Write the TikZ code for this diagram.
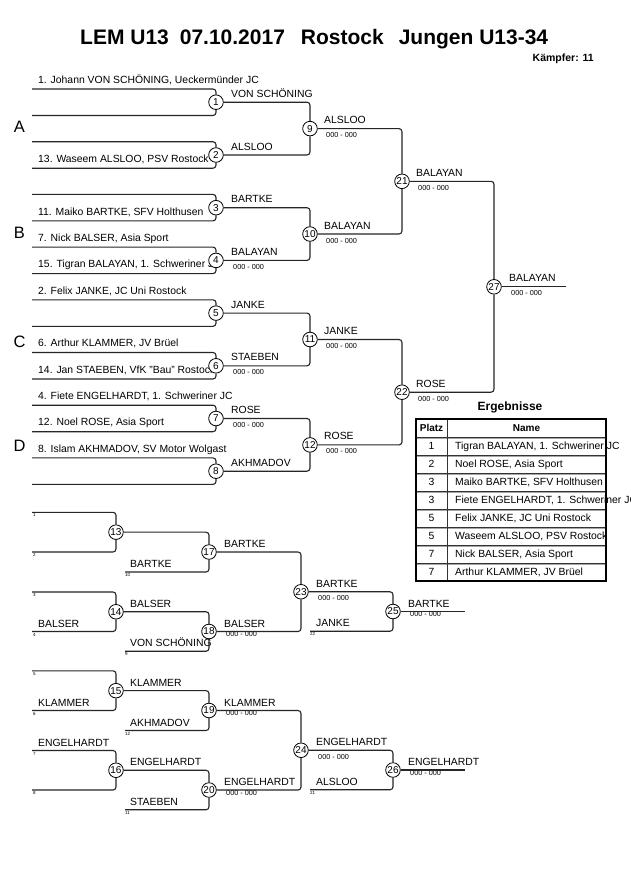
\documentclass[tikz,border=0pt]{standalone}
\usepackage{fontspec}
\setmainfont{Liberation Sans}
\newcommand{\fsz}[1]{\fontsize{#1}{#1}\selectfont}
\pgfdeclarelayer{bgl}
\pgfdeclarelayer{textl}
\pgfdeclarelayer{linel}
\pgfsetlayers{bgl,textl,linel,main}
\tikzset{
  mc/.style={circle,draw=black,line width=0.8pt,fill=white,minimum size=14.6pt,inner sep=0pt,font=\fsz{10}},
  nm/.style={anchor=base west,inner sep=0pt,font=\fsz{10.4}},
  sc/.style={anchor=base west,inner sep=0pt,font=\fsz{7.3}},
  tn/.style={anchor=base west,inner sep=0pt,font=\fsz{4.5}},
  grp/.style={anchor=center,inner sep=0pt,font=\fsz{16.5}},
  br/.style={draw=black!85,line width=1.1pt,rounded corners=3pt},
  tb/.style={anchor=base,inner sep=0pt,font=\fsz{10.4}},
  tbh/.style={anchor=base,inner sep=0pt,font=\bfseries\fsz{10}},
  tbn/.style={anchor=base west,inner sep=0pt,font=\fsz{10.4}},
  rowl/.style={draw=black!80,line width=0.6pt},
  rowg/.style={draw=black!35,line width=0.6pt},
}
\begin{document}
\begin{tikzpicture}[x=1pt,y=-1pt]
\begin{pgfonlayer}{bgl}
\fill[white] (0,0) rectangle (630,891);
\end{pgfonlayer}
\useasboundingbox (0,0) rectangle (630,891);

% ---------- circles (main bracket)
\node[mc] (c1) at (216,102.2) {1};
\node[mc] (c2) at (216,155) {2};
\node[mc] (c3) at (216,207.7) {3};
\node[mc] (c4) at (216,260.4) {4};
\node[mc] (c5) at (216,313.1) {5};
\node[mc] (c6) at (216,365.8) {6};
\node[mc] (c7) at (216,418.5) {7};
\node[mc] (c8) at (216,471.2) {8};
\node[mc] (c9) at (310,128.6) {9};
\node[mc] (c10) at (310,234) {10};
\node[mc] (c11) at (310,339.5) {11};
\node[mc] (c12) at (310,444.9) {12};
\node[mc] (c21) at (402,181.3) {21};
\node[mc] (c22) at (402,392.2) {22};
\node[mc] (c27) at (494,286.8) {27};
% ---------- circles (repechage)
\node[mc] (c13) at (116,532.15) {13};
\node[mc] (c14) at (116,611.75) {14};
\node[mc] (c17) at (209,552) {17};
\node[mc] (c18) at (209,631.5) {18};
\node[mc] (c23) at (301,591.75) {23};
\node[mc] (c25) at (393,611.5) {25};
\node[mc] (c15) at (116,690.65) {15};
\node[mc] (c16) at (116,770.25) {16};
\node[mc] (c19) at (209,710.5) {19};
\node[mc] (c20) at (209,790) {20};
\node[mc] (c24) at (301,750.25) {24};
\node[mc] (c26) at (393,770) {26};

% ---------- free ends
\coordinate (s1t) at (32,89);    \coordinate (s1b) at (32,115.5);
\coordinate (s2t) at (32,141.7); \coordinate (s2b) at (32,168.2);
\coordinate (s3t) at (32,194.4); \coordinate (s3b) at (32,220.9);
\coordinate (s4t) at (32,247.1); \coordinate (s4b) at (32,273.6);
\coordinate (s5t) at (32,299.8); \coordinate (s5b) at (32,326.3);
\coordinate (s6t) at (32,352.5); \coordinate (s6b) at (32,379);
\coordinate (s7t) at (32,405.2); \coordinate (s7b) at (32,431.7);
\coordinate (s8t) at (32,457.9); \coordinate (s8b) at (32,484.4);
\coordinate (f27) at (566,286.8);
\coordinate (r13t) at (32,512.3); \coordinate (r13b) at (32,552);
\coordinate (r14t) at (32,592);   \coordinate (r14b) at (32,631.5);
\coordinate (r17b) at (125,572);
\coordinate (r18b) at (125,651.25);
\coordinate (r25b) at (310,631.25);
\coordinate (f25) at (465,611.5);
\coordinate (r15t) at (32,670.8); \coordinate (r15b) at (32,710.5);
\coordinate (r16t) at (32,750.5); \coordinate (r16b) at (32,790);
\coordinate (r19b) at (125,730.5);
\coordinate (r20b) at (125,809.75);
\coordinate (r26b) at (310,789.75);
\coordinate (f26) at (465,770);

% ---------- connectors
\begin{pgfonlayer}{linel}
\foreach \k in {1,...,8} {
  \draw[br] (s\k t) -| (c\k);
  \draw[br] (s\k b) -| (c\k);
}
\draw[br] (c1) -| (c9);  \draw[br] (c2) -| (c9);
\draw[br] (c3) -| (c10); \draw[br] (c4) -| (c10);
\draw[br] (c5) -| (c11); \draw[br] (c6) -| (c11);
\draw[br] (c7) -| (c12); \draw[br] (c8) -| (c12);
\draw[br] (c9) -| (c21); \draw[br] (c10) -| (c21);
\draw[br] (c11) -| (c22); \draw[br] (c12) -| (c22);
\draw[br] (c21) -| (c27); \draw[br] (c22) -| (c27);
\draw[br] (c27) -- (f27);
% repechage 1
\draw[br] (r13t) -| (c13); \draw[br] (r13b) -| (c13);
\draw[br] (r14t) -| (c14); \draw[br] (r14b) -| (c14);
\draw[br] (c13) -| (c17); \draw[br] (r17b) -| (c17);
\draw[br] (c14) -| (c18); \draw[br] (r18b) -| (c18);
\draw[br] (c17) -| (c23); \draw[br] (c18) -| (c23);
\draw[br] (c23) -| (c25); \draw[br] (r25b) -| (c25);
\draw[br] (c25) -- (f25);
% repechage 2
\draw[br] (r15t) -| (c15); \draw[br] (r15b) -| (c15);
\draw[br] (r16t) -| (c16); \draw[br] (r16b) -| (c16);
\draw[br] (c15) -| (c19); \draw[br] (r19b) -| (c19);
\draw[br] (c16) -| (c20); \draw[br] (r20b) -| (c20);
\draw[br] (c19) -| (c24); \draw[br] (c20) -| (c24);
\draw[br] (c24) -| (c26); \draw[br] (r26b) -| (c26);
\draw[br] (c26) -- (f26);
% results table lines
\foreach \y in {437,455,473,491,509,527,545,563} {
  \draw[rowl] (416,\y) -- (606,\y);
  \draw[rowg] (416,\y+1) -- (606,\y+1);
}
\draw[rowl] (447,419) -- (447,581);
\draw[draw=black,line width=1.8pt] (416,419) rectangle (606,581);
\end{pgfonlayer}

% ---------- texts
\begin{pgfonlayer}{textl}
\node[anchor=base west,inner sep=0pt,font=\bfseries\fsz{21}] (title) at (80,44.3)
  {LEM U13\hspace{11pt}07.10.2017\hspace{16pt}Rostock\hspace{15pt}Jungen U13-34};
\node[anchor=base east,inner sep=0pt,font=\bfseries\fsz{10.5}] (kampf) at (594,62) {Kämpfer: 11};

\node[grp] (gA) at (19.5,127) {A};
\node[grp] (gB) at (19.5,233) {B};
\node[grp] (gC) at (19.5,342) {C};
\node[grp] (gD) at (19.5,446) {D};

\node[nm] (p1) at (38,83.3) {1. Johann VON SCHÖNING, Ueckermünder JC};
\node[nm] (p13) at (38,162) {13. Waseem ALSLOO, PSV Rostock};
\node[nm] (p11) at (38,215) {11. Maiko BARTKE, SFV Holthusen};
\node[nm] (p7) at (38,241) {7. Nick BALSER, Asia Sport};
\node[nm] (p15) at (38,267.6) {15. Tigran BALAYAN, 1. Schweriner JC};
\node[nm] (p2) at (38,294) {2. Felix JANKE, JC Uni Rostock};
\node[nm] (p6) at (38,346.5) {6. Arthur KLAMMER, JV Brüel};
\node[nm] (p14) at (38,373) {14. Jan STAEBEN, VfK "Bau" Rostock};
\node[nm] (p4) at (38,399.2) {4. Fiete ENGELHARDT, 1. Schweriner JC};
\node[nm] (p12) at (38,425.7) {12. Noel ROSE, Asia Sport};
\node[nm] (p8) at (38,452) {8. Islam AKHMADOV, SV Motor Wolgast};

\node[nm] (w1) at (231,97) {VON SCHÖNING};
\node[nm] (w2) at (231,150) {ALSLOO};
\node[nm] (w3) at (231,202.7) {BARTKE};
\node[nm] (w4) at (231,255.4) {BALAYAN};
\node[sc] (w4s) at (233,269.4) {000 - 000};
\node[nm] (w5) at (231,308) {JANKE};
\node[nm] (w6) at (231,360.8) {STAEBEN};
\node[sc] (w6s) at (233,374.8) {000 - 000};
\node[nm] (w7) at (231,413.5) {ROSE};
\node[sc] (w7s) at (233,427.5) {000 - 000};
\node[nm] (w8) at (231,466.2) {AKHMADOV};

\node[nm] (w9) at (324,123.6) {ALSLOO};
\node[sc] (w9s) at (326,137.6) {000 - 000};
\node[nm] (w10) at (324,229) {BALAYAN};
\node[sc] (w10s) at (326,243) {000 - 000};
\node[nm] (w11) at (324,334.5) {JANKE};
\node[sc] (w11s) at (326,348.5) {000 - 000};
\node[nm] (w12) at (324,439.9) {ROSE};
\node[sc] (w12s) at (326,453.9) {000 - 000};
\node[nm] (w21) at (416,176.3) {BALAYAN};
\node[sc] (w21s) at (418,190.3) {000 - 000};
\node[nm] (w22) at (416,387.2) {ROSE};
\node[sc] (w22s) at (418,401.2) {000 - 000};
\node[nm] (w27) at (509,281.8) {BALAYAN};
\node[sc] (w27s) at (511,295.8) {000 - 000};

% repechage 1 texts
\node[tn] (q1) at (33,516.8) {1};
\node[tn] (q2) at (33,556.5) {2};
\node[tn] (q3) at (33,596.5) {3};
\node[tn] (q4) at (33,636) {4};
\node[nm] (x14b) at (38,627) {BALSER};
\node[nm] (x17b) at (130,567.5) {BARTKE};
\node[tn] (q10) at (125,576.5) {10};
\node[nm] (x14) at (130,607.2) {BALSER};
\node[nm] (x18b) at (130,646.7) {VON SCHÖNING};
\node[tn] (q9) at (125,655.7) {9};
\node[nm] (x17) at (224,547) {BARTKE};
\node[nm] (x18) at (224,627) {BALSER};
\node[sc] (x18s) at (226,636.5) {000 - 000};
\node[nm] (x23) at (316,587.2) {BARTKE};
\node[sc] (x23s) at (318,600.7) {000 - 000};
\node[nm] (x25b) at (316,626.8) {JANKE};
\node[tn] (q22) at (310,635.8) {22};
\node[nm] (x25) at (408,607) {BARTKE};
\node[sc] (x25s) at (410,616.5) {000 - 000};

% repechage 2 texts
\node[tn] (q5) at (33,675.3) {5};
\node[tn] (q6) at (33,715) {6};
\node[tn] (q7) at (33,755) {7};
\node[tn] (q8) at (33,794.5) {8};
\node[nm] (x15b) at (38,706) {KLAMMER};
\node[nm] (x16t) at (38,746) {ENGELHARDT};
\node[nm] (x15) at (130,686.2) {KLAMMER};
\node[nm] (x19b) at (130,726) {AKHMADOV};
\node[tn] (q12) at (125,735) {12};
\node[nm] (x16) at (130,765.7) {ENGELHARDT};
\node[nm] (x20b) at (130,805.2) {STAEBEN};
\node[tn] (q11) at (125,814.2) {11};
\node[nm] (x19) at (224,706) {KLAMMER};
\node[sc] (x19s) at (226,715.5) {000 - 000};
\node[nm] (x20) at (224,785.5) {ENGELHARDT};
\node[sc] (x20s) at (226,795) {000 - 000};
\node[nm] (x24) at (316,745.7) {ENGELHARDT};
\node[sc] (x24s) at (318,759.2) {000 - 000};
\node[nm] (x26b) at (316,785.2) {ALSLOO};
\node[tn] (q21) at (310,794.2) {21};
\node[nm] (x26) at (408,765.5) {ENGELHARDT};
\node[sc] (x26s) at (410,775) {000 - 000};

% results
\node[anchor=base,inner sep=0pt,font=\bfseries\fsz{12}] (erg) at (510,410.5) {Ergebnisse};
\node[tbh] (hp) at (431.5,431.6) {Platz};
\node[tbh] (hn) at (526.5,431.6) {Name};
\node[tb] (r1n) at (431.5,449.6) {1};
\node[tbn] (r1) at (455,449.6) {Tigran BALAYAN, 1. Schweriner JC};
\node[tb] (r2n) at (431.5,467.6) {2};
\node[tbn] (r2) at (455,467.6) {Noel ROSE, Asia Sport};
\node[tb] (r3n) at (431.5,485.6) {3};
\node[tbn] (r3) at (455,485.6) {Maiko BARTKE, SFV Holthusen};
\node[tb] (r4n) at (431.5,503.6) {3};
\node[tbn] (r4) at (455,503.6) {Fiete ENGELHARDT, 1. Schweriner JC};
\node[tb] (r5n) at (431.5,521.6) {5};
\node[tbn] (r5) at (455,521.6) {Felix JANKE, JC Uni Rostock};
\node[tb] (r6n) at (431.5,539.6) {5};
\node[tbn] (r6) at (455,539.6) {Waseem ALSLOO, PSV Rostock};
\node[tb] (r7n) at (431.5,557.6) {7};
\node[tbn] (r7) at (455,557.6) {Nick BALSER, Asia Sport};
\node[tb] (r8n) at (431.5,575.6) {7};
\node[tbn] (r8) at (455,575.6) {Arthur KLAMMER, JV Brüel};
\end{pgfonlayer}
\end{tikzpicture}
\end{document}
